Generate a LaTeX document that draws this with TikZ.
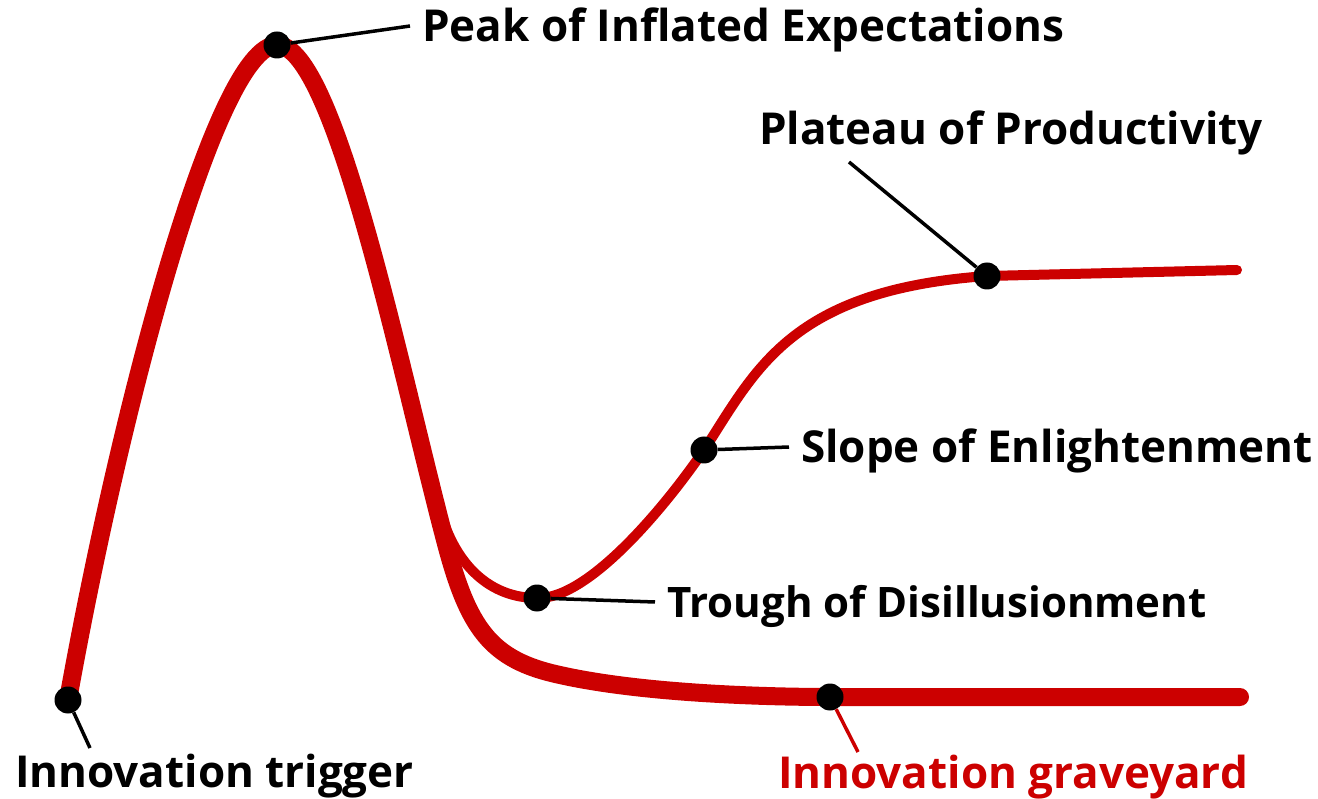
\documentclass[tikz,border=0pt]{standalone}
\usepackage{fontspec}
\setmainfont{Open Sans}
\usetikzlibrary{backgrounds}
\definecolor{hypered}{RGB}{204,0,0}
\tikzstyle{dot} = [circle, fill=black, inner sep=0pt, minimum size=27pt]
\tikzstyle{phase} = [anchor=west, inner xsep=12pt, inner ysep=0pt, text height=32pt, text depth=0pt, font=\fontsize{44}{50}\selectfont\bfseries]
\tikzstyle{leader} = [line width=3.5pt, black]
\tikzstyle{hype} = [line width=18pt, hypered, line cap=round]
\tikzstyle{branch} = [line width=10pt, hypered, line cap=round]

\begin{document}
\begin{tikzpicture}[x=1pt, y=-1pt]
  \useasboundingbox (0,0) rectangle (1318,799);

  % stages on the curve
  \node (trigger) [dot] at (68,700) {};
  \node (peak) [dot] at (277,45) {};
  \node (trough) [dot] at (537,598) {};
  \node (slope) [dot] at (704,450) {};
  \node (plateau) [dot] at (987,276) {};
  \node (grave) [dot] at (830,697) {};

  % labels
  \node (peaktxt) [phase] at (410,26) {Peak of Inflated Expectations};
  \node (plateautxt) [phase] at (747,129) {Plateau of Productivity};
  \node (slopetxt) [phase] at (789,447) {Slope of Enlightenment};
  \node (troughtxt) [phase, text height=30pt, font=\fontsize{42}{48}\selectfont\bfseries] at (655,602) {Trough of Disillusionment};
  \node (triggertxt) [phase] at (3,771) {Innovation trigger};
  \node (gravetxt) [phase, text=hypered] at (766,772) {Innovation graveyard};

  \coordinate (plateauend) at (849,162);
  \coordinate (triggerend) at (90,748);
  \coordinate (graveend) at (858,752);
  \coordinate (split) at (440,510);

  \begin{scope}[on background layer]
    \draw [hype] (trigger.center) .. controls (118,420) and (215,45) .. (peak.center)
      .. controls (335,45) and (400,370) .. (445,540)
      .. controls (468,628) and (490,660) .. (560,675)
      .. controls (640,693) and (760,697) .. (grave.center) -- (1240,697);
    \draw [branch] (split) .. controls (455,565) and (490,598) .. (trough.center)
      .. controls (590,600) and (670,500) .. (slope.center)
      .. controls (756,370) and (790,290) .. (plateau.center) -- (1237,270);
  \end{scope}

  \draw [leader] (peak) -- (peaktxt.west);
  \draw [leader] (plateau) -- (plateauend);
  \draw [leader] (slope) -- (slopetxt.west);
  \draw [leader] (trough) -- (troughtxt.west);
  \draw [leader] (trigger) -- (triggerend);
  \draw [leader, hypered] (grave) -- (graveend);
\end{tikzpicture}
\end{document}
